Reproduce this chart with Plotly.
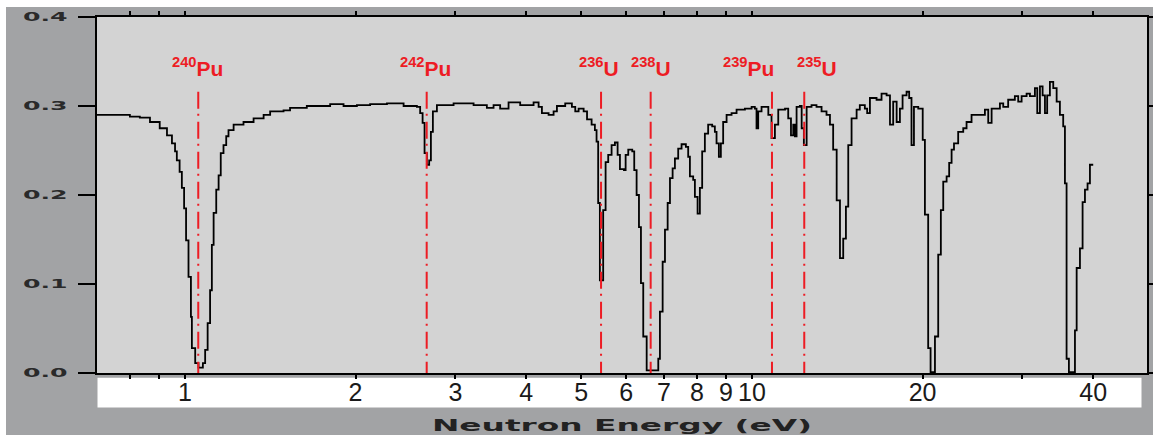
import numpy as np
import plotly.graph_objects as go

# ---------------- data ----------------
energy_ev = [
    0.70, 0.80, 0.833, 0.868, 0.903, 0.930, 0.949, 0.961, 0.968, 0.979, 0.988, 0.997,
    1.005, 1.015, 1.025, 1.029, 1.043, 1.057, 1.076, 1.086, 1.097, 1.108, 1.116, 1.124,
    1.136, 1.147, 1.157, 1.170, 1.183, 1.194, 1.219, 1.269, 1.322, 1.377, 1.414, 1.493,
    1.533, 1.641, 1.804, 1.905, 2.011,
    2.122, 2.272, 2.431, 2.566, 2.600, 2.626, 2.647, 2.672, 2.697, 2.716, 2.738, 2.783,
    2.978, 3.230, 3.409, 3.503, 3.598, 3.723, 3.903, 4.121, 4.206, 4.263, 4.380, 4.470,
    4.531, 4.686, 4.815, 4.881, 4.948,
    5.050, 5.120, 5.216, 5.286, 5.322, 5.357, 5.394, 5.467, 5.521, 5.580, 5.657, 5.734,
    5.797, 5.852, 5.948, 5.989, 6.053, 6.152, 6.202, 6.262, 6.322, 6.373, 6.433, 6.523,
    6.747, 6.838, 6.884, 6.960, 7.026, 7.103, 7.170, 7.248, 7.316, 7.414, 7.516, 7.649,
    7.721, 7.775, 7.879, 7.934, 8.021, 8.096, 8.172, 8.262, 8.373, 8.511, 8.604, 8.663,
    8.745, 8.816, 8.899, 9.024, 9.208, 9.397, 9.721, 9.989, 10.12, 10.19, 10.26, 10.40,
    10.61, 10.69, 10.83, 10.98, 11.13, 11.44, 11.59, 11.72, 11.83, 11.91, 11.99, 12.15,
    12.24, 12.35, 12.49, 12.74, 13.00, 13.27, 13.54, 13.73, 13.91, 14.11, 14.30, 14.49,
    14.65, 14.79, 14.99, 15.30, 15.50, 15.82, 15.97, 16.15, 16.59, 16.93, 17.28, 17.52,
    17.75, 18.00, 18.24, 18.44, 18.74, 18.94, 19.12, 19.31, 19.65, 20.01, 20.19, 20.46,
    20.66, 20.88, 21.03, 21.31, 21.54, 21.75, 22.05, 22.28, 22.50, 22.72, 23.11,
    23.59, 23.91, 24.40, 24.90, 25.76, 26.11, 26.47, 27.38, 27.75, 28.31, 29.09, 29.49,
    29.90, 30.51, 30.93, 31.56, 31.86, 32.21, 32.56, 32.87, 33.17, 33.54, 34.00, 34.47,
    34.93, 35.40, 35.65, 35.89, 36.23, 36.87, 37.13, 37.39, 37.89, 38.30, 38.67, 39.08,
    39.46, 39.99,
]
transmission = [
    0.290, 0.288, 0.287, 0.282, 0.275, 0.267, 0.258, 0.249, 0.239, 0.226, 0.208, 0.185,
    0.149, 0.108, 0.063, 0.028, 0.011, 0.006, 0.011, 0.026, 0.056, 0.093, 0.144, 0.180,
    0.206, 0.222, 0.247, 0.256, 0.266, 0.273, 0.279, 0.282, 0.286, 0.290, 0.294, 0.295,
    0.298, 0.300, 0.302, 0.300, 0.301,
    0.302, 0.303, 0.300, 0.299, 0.292, 0.281, 0.247, 0.234, 0.239, 0.271, 0.294, 0.301,
    0.303, 0.301, 0.298, 0.301, 0.297, 0.304, 0.301, 0.304, 0.299, 0.292, 0.290, 0.294,
    0.300, 0.303, 0.299, 0.294, 0.297,
    0.294, 0.285, 0.279, 0.273, 0.260, 0.191, 0.104, 0.183, 0.237, 0.245, 0.256, 0.259,
    0.245, 0.229, 0.228, 0.245, 0.251, 0.249, 0.228, 0.200, 0.164, 0.101, 0.041, 0.003,
    0.003, 0.016, 0.069, 0.125, 0.161, 0.191, 0.219, 0.230, 0.241, 0.252, 0.257, 0.254,
    0.243, 0.221, 0.217, 0.198, 0.179, 0.208, 0.249, 0.269, 0.279, 0.277, 0.271, 0.258,
    0.243, 0.258, 0.282, 0.290, 0.292, 0.296, 0.297, 0.299, 0.297, 0.275, 0.294, 0.299,
    0.299, 0.290, 0.264, 0.279, 0.296, 0.297, 0.286, 0.267, 0.279, 0.266, 0.299, 0.300,
    0.275, 0.256, 0.299, 0.301, 0.299, 0.294, 0.290, 0.279, 0.251, 0.194, 0.129, 0.151,
    0.187, 0.256, 0.286, 0.296, 0.301, 0.297, 0.292, 0.309, 0.307, 0.314, 0.312, 0.279,
    0.305, 0.282, 0.297, 0.312, 0.316, 0.309, 0.256, 0.299, 0.297, 0.262, 0.178, 0.028,
    0.001, 0.001, 0.041, 0.133, 0.183, 0.215, 0.221, 0.236, 0.251, 0.258, 0.271,
    0.275, 0.282, 0.290, 0.290, 0.296, 0.281, 0.297, 0.303, 0.299, 0.307, 0.311, 0.305,
    0.311, 0.314, 0.311, 0.320, 0.292, 0.322, 0.312, 0.292, 0.312, 0.327, 0.320, 0.305,
    0.290, 0.277, 0.213, 0.016, 0.001, 0.001, 0.048, 0.118, 0.140, 0.192, 0.206, 0.213,
    0.234, 0.234,
]

isotope_labels = ["<b><sup>240</sup>Pu</b>", "<b><sup>242</sup>Pu</b>", "<b><sup>236</sup>U</b>",
                  "<b><sup>238</sup>U</b>", "<b><sup>239</sup>Pu</b>", "<b><sup>235</sup>U</b>"]
resonance_ev = [1.056, 2.67, 5.42, 6.63, 10.85, 12.37]
label_ev = [1.052, 2.66, 5.37, 6.635, 9.88, 13.02]
marker_top = 0.316

x_tickvals = [1, 2, 3, 4, 5, 6, 7, 8, 9, 10, 20, 40]
x_ticktext = ["1", "2", "3", "4", "5", "6", "7", "8", "9", "10", "20", "40"]
x_minor_tickvals = [0.8, 0.9, 30]
y_tickvals = [0.0, 0.1, 0.2, 0.3, 0.4]
y_ticktext = ["<b>0.0</b>", "<b>0.1</b>", "<b>0.2</b>", "<b>0.3</b>", "<b>0.4</b>"]
x_title = "<b>Neutron Energy (eV)</b>"

# ---------------- styling ----------------
W, H = 1153, 435
ML, MR, MT, MB = 97, 6, 17, 62
OUTER = "#a2a3a5"
INNER = "#d3d3d3"
RED = "#ed1c24"

fig = go.Figure()
fig.add_trace(go.Scatter(
    x=energy_ev, y=transmission, mode="lines",
    line=dict(color="black", width=1.8, shape="hv"),
    hoverinfo="skip", showlegend=False,
))

pw = W - ML - MR
ph = H - MT - MB
def px2paper_x(px):
    return (px - ML) / pw
def py2paper_y(py):
    return (H - MB - py) / ph

shapes = []
shapes.append(dict(type="rect", xref="paper", yref="paper", layer="below",
                   x0=px2paper_x(-2), x1=px2paper_x(6), y0=py2paper_y(H + 2), y1=py2paper_y(-2),
                   fillcolor="white", line=dict(width=0)))
shapes.append(dict(type="rect", xref="paper", yref="paper", layer="below",
                   x0=px2paper_x(-2), x1=px2paper_x(W + 2), y0=py2paper_y(7), y1=py2paper_y(-2),
                   fillcolor="white", line=dict(width=0)))
shapes.append(dict(type="rect", xref="paper", yref="paper", layer="below",
                   x0=px2paper_x(97.5), x1=px2paper_x(1141.5), y0=py2paper_y(407.5), y1=py2paper_y(377.7),
                   fillcolor="white", line=dict(width=0)))
for e in resonance_ev:
    shapes.append(dict(type="line", xref="x", yref="y", x0=e, x1=e, y0=marker_top, y1=0,
                       line=dict(color=RED, width=2, dash="17px,5px,2px,6px"), layer="above"))

annotations = []
for txt, e in zip(isotope_labels, label_ev):
    annotations.append(dict(x=np.log10(e), y=0.327, xref="x", yref="y", text=txt,
                            showarrow=False, xanchor="center", yanchor="bottom",
                            font=dict(family="Liberation Sans", size=21, color=RED)))

fig.update_layout(
    width=W, height=H, autosize=False,
    margin=dict(l=ML, r=MR, t=MT, b=MB, pad=0, autoexpand=False),
    paper_bgcolor=OUTER, plot_bgcolor=INNER,
    shapes=shapes, annotations=annotations,
    showlegend=False,
    xaxis=dict(
        type="log", range=[np.log10(0.7), np.log10(49.75)], automargin=False,
        tickmode="array", tickvals=x_tickvals, ticktext=x_ticktext,
        ticks="outside", ticklen=4, tickwidth=2, tickcolor="black",
        minor=dict(tickmode="array", tickvals=x_minor_tickvals, ticks="outside",
                   ticklen=4, tickwidth=2, tickcolor="black", showgrid=False),
        showline=True, linecolor="black", linewidth=2, mirror="allticks",
        showgrid=False, zeroline=False,
        tickfont=dict(family="Liberation Sans", size=25, color="#1a1a1a"),
        ticklabelstandoff=-8,
        title=dict(text=x_title, standoff=20,
                   font=dict(family="DejaVu Sans", size=16, color="#222222")),
    ),
    yaxis=dict(
        range=[0, 0.4], automargin=False,
        tickmode="array", tickvals=y_tickvals, ticktext=y_ticktext,
        ticks="outside", ticklen=17, tickwidth=1.5, tickcolor="black",
        showline=True, linecolor="black", linewidth=2, mirror="allticks",
        showgrid=False, zeroline=False,
        tickfont=dict(family="DejaVu Sans", size=12, color="#2a2a2a"),
        ticklabelstandoff=8,
    ),
)

post = """
var gd = document.getElementById('{plot_id}');
function stretch(sel, s) {
  gd.querySelectorAll(sel).forEach(function(t) {
    if (t.getAttribute('data-stretched')) return;
    var x = parseFloat(t.getAttribute('x')) || 0;
    var tr = t.getAttribute('transform') || '';
    t.setAttribute('transform', tr + ' translate(' + x + ',0) scale(' + s + ',1) translate(' + (-x) + ',0)');
    t.setAttribute('data-stretched', '1');
  });
}
stretch('.ytick text', 2.1);
stretch('.xtitle', 2.05);
"""

fig.write_html("out.html", config={"displayModeBar": False, "responsive": False}, post_script=post)
